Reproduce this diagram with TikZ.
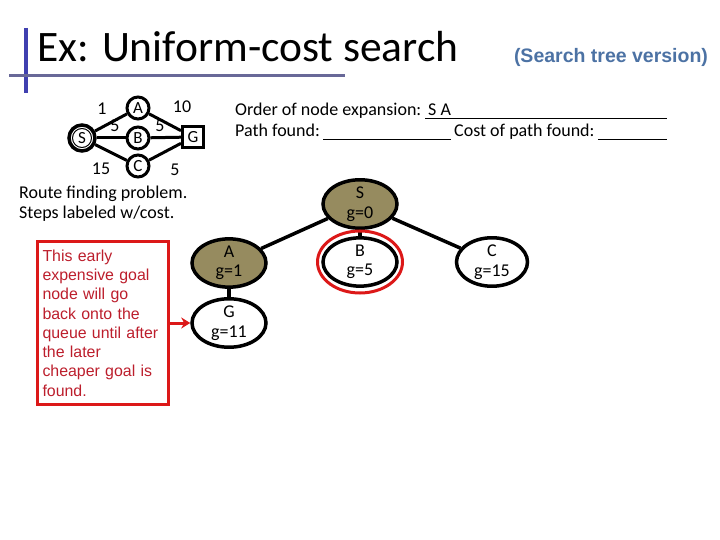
\documentclass[tikz,border=0pt]{standalone}
\usepackage{fontspec}
\setmainfont{Carlito}
\newfontfamily\arialfont{Liberation Sans}
\usetikzlibrary{shapes.geometric,arrows.meta}
\definecolor{olivefill}{RGB}{150,139,95}
\definecolor{barblue}{RGB}{64,64,176}
\definecolor{bargray}{RGB}{104,104,152}
\definecolor{subblue}{RGB}{76,114,164}
\definecolor{boxred}{RGB}{220,24,24}
\definecolor{textred}{RGB}{188,30,44}
\begin{document}
\begin{tikzpicture}[x=1pt,y=-1pt,
	gcirc/.style={circle,draw,line width=3pt,minimum size=22pt,inner sep=0pt,font=\fontsize{17}{17}\selectfont},
	gedge/.style={line width=3pt},
	cost/.style={inner sep=0pt,font=\fontsize{18}{18}\selectfont},
	body/.style={anchor=base west,inner sep=0pt,font=\fontsize{18}{18}\selectfont},
	tnode/.style={ellipse,draw,line width=3.5pt,minimum width=74pt,minimum height=47pt,inner sep=0pt,align=center,font=\fontsize{18}{19.5}\selectfont},
	expanded/.style={tnode,fill=olivefill},
	tedge/.style={line width=3.5pt},
	blank/.style={line width=1.5pt}]
	\useasboundingbox (0,0) rectangle (720,540);
	
	% title
	\draw[barblue,line width=4pt] (26,28) -- (26,93);
	\draw[bargray,line width=3pt] (9,76) -- (345,76);
	\node[anchor=base west,inner sep=0pt,font=\fontsize{43.5}{43.5}\selectfont] (title) at (37,62) {Ex: Uniform-cost search};
	\node[font=\arialfont\bfseries\fontsize{19.5}{19.5}\selectfont,text=subblue] (sub) at (611,57) {(Search tree version)};
	
	% route graph
	\node[gcirc,minimum size=26pt,line width=3.5pt] (gS) at (82,138) {S};
	\draw[line width=1pt] (gS.center) circle [radius=9.5];
	\node[gcirc] (gA) at (138,108) {A};
	\node[gcirc] (gB) at (138,138) {B};
	\node[gcirc] (gC) at (138,166) {C};
	\node[draw,line width=3pt,minimum size=21pt,inner sep=0pt,font=\fontsize{17}{17}\selectfont] (gG) at (193,137) {G};
	\draw[gedge] (gS) -- (gA);
	\draw[gedge] (gS) -- (gB);
	\draw[gedge] (gS) -- (gC);
	\draw[gedge] (gA) -- (gG);
	\draw[gedge] (gB) -- (gG);
	\draw[gedge] (gC) -- (gG);
	\node[cost] (cSA) at (102,109) {1};
	\node[cost] (cSB) at (115,126) {5};
	\node[cost] (cAG) at (182,107) {10};
	\node[cost] (cBG) at (160,126) {5};
	\node[cost] (cSC) at (101,169) {15};
	\node[cost] (cCG) at (175,170) {5};
	
	\node[anchor=north west,align=left,inner sep=0pt,font=\fontsize{18}{20}\selectfont] (route) at (19,186) {Route finding problem.\\Steps labeled w/cost.};
	
	% answer lines
	\node[body] (order) at (235,116) {Order of node expansion:};
	\node[body] (sa) at (428,116) {S A};
	\draw[blank] (425,118.5) -- (667,118.5);
	\node[body] (path) at (235,137) {Path found:};
	\node[body] (cost) at (454,137) {Cost of path found:};
	\draw[blank] ([xshift=3pt,yshift=-2.5pt]path.base east) -- (451,139.5);
	\draw[blank] ([xshift=3pt,yshift=-2.5pt]cost.base east) -- (667,139.5);
	
	% search tree
	\node[expanded,minimum height=39pt] (tS) at (360,204) {S\\g=0};
	\node[expanded] (tA) at (229,263) {A\\g=1};
	\node[tnode] (tB) at (360,262) {B\\g=5};
	\node[tnode,minimum width=71pt] (tC) at (492,262) {C\\g=15};
	\node[tnode] (tG) at (229,323) {G\\g=11};
	\draw[tedge] (tS) -- (tA);
	\draw[tedge] (tS) -- (tB);
	\draw[tedge] (tS) -- (tC);
	\draw[tedge] (tA) -- (tG);
	\node[ellipse,draw=boxred,line width=3pt,minimum width=85pt,minimum height=62pt] (ring) at (tB) {};
	
	% note
	\node[anchor=north west,draw=boxred,line width=3pt,text=textred,align=left,text width=121pt,inner xsep=5pt,minimum height=163pt,font=\arialfont\fontsize{15.9}{19.3}\selectfont] (note) at (36,240) {This early\\expensive goal\\node will go\\back onto the\\queue until after\\the later\\cheaper goal is\\found.};
	\draw[boxred,line width=3pt,-{Stealth[length=9pt,width=11pt]}] (note.east |- tG) -- (tG.west);
\end{tikzpicture}
\end{document}
